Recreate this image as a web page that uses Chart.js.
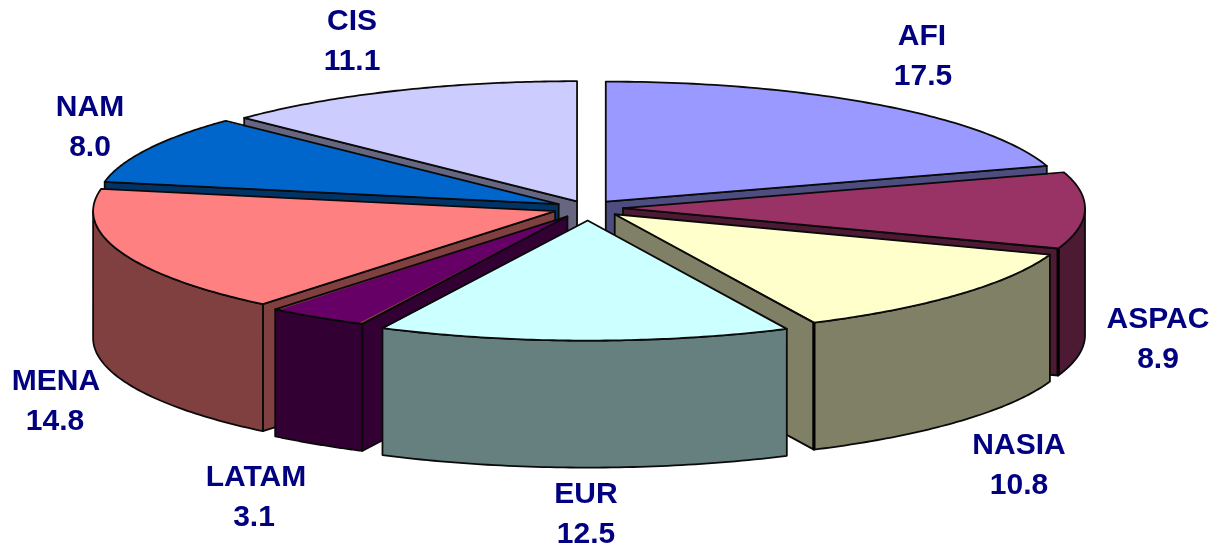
<!DOCTYPE html>
<html>
<head>
<meta charset="utf-8">
<style>
html,body{margin:0;padding:0;background:#fff;overflow:hidden}
#wrap{position:absolute;left:0;top:0;width:1224px;height:554px}
canvas{display:block;filter:blur(0.45px)}
</style>
<script src="https://cdn.jsdelivr.net/npm/chart.js@4/dist/chart.umd.min.js"></script>
</head>
<body>
<div id="wrap"><canvas id="c" width="1224" height="554"></canvas></div>
<script>
const categories = ['AFI','ASPAC','NASIA','EUR','LATAM','MENA','NAM','CIS'];
const values = [17.5,8.9,10.8,12.5,3.1,14.8,8.0,11.1];

const topColors = ['#9999FF','#993366','#FFFFCC','#CCFFFF','#660066','#FF8080','#0066CC','#CCCCFF'];
const wallColors = ['#4D4D80','#4D1A33','#808066','#668080','#330033','#804040','#003366','#666680'];
const explode = [30,35,36,48,38,35,33,28];
const thickEdges = [1,2];
const labelPositions = [[922,37],[1158,320],[1019,446],[586,495],[256,478],[56,382],[90,108],[352,22]];
const valueShift = [1,0,0,0,-2,-1,0,0];

const PIE_X = 588, PIE_Y = 208, SQUASH = 0.26, RADIUS = 462, DEPTH = 127, LINE = 1.8;
const INK = '#0a0a0a', TEXT = '#000080', FONT = 'bold 30px "Liberation Sans", Arial, sans-serif';

function geometry(arc, i) {
  const d = explode[i], mid = (arc.startAngle + arc.endAngle) / 2;
  return {
    s: arc.startAngle, e: arc.endAngle, mid, R: RADIUS,
    ax: PIE_X + Math.cos(mid) * d,
    ay: PIE_Y + Math.sin(mid) * d * SQUASH
  };
}
function pt(g, a) { return [g.ax + g.R * Math.cos(a), g.ay + g.R * Math.sin(a) * SQUASH]; }

function paint(ctx, fill) {
  ctx.fillStyle = fill; ctx.fill();
  ctx.strokeStyle = INK; ctx.lineWidth = LINE; ctx.lineJoin = 'round'; ctx.stroke();
}
function radialFace(ctx, g, a, fill) {
  const p = pt(g, a);
  ctx.beginPath();
  ctx.moveTo(g.ax, g.ay); ctx.lineTo(p[0], p[1]);
  ctx.lineTo(p[0], p[1] + DEPTH); ctx.lineTo(g.ax, g.ay + DEPTH);
  ctx.closePath(); paint(ctx, fill);
}
function outerFace(ctx, g, lo, hi, fill) {
  const n = 60;
  ctx.beginPath();
  for (let k = 0; k <= n; k++) {
    const p = pt(g, lo + (hi - lo) * k / n);
    k ? ctx.lineTo(p[0], p[1]) : ctx.moveTo(p[0], p[1]);
  }
  for (let k = n; k >= 0; k--) {
    const p = pt(g, lo + (hi - lo) * k / n);
    ctx.lineTo(p[0], p[1] + DEPTH);
  }
  ctx.closePath(); paint(ctx, fill);
}

const pie3d = {
  id: 'pie3d',
  afterDatasetsUpdate(chart) {
    // keep every slice at the same radius: Chart.js grows narrow exploded slices
    chart.getDatasetMeta(0).data.forEach((arc, i) => {
      const fix = 1 - Math.sin(Math.min(Math.PI, arc.circumference));
      arc.outerRadius = RADIUS - explode[i] * fix;
    });
  },
  beforeDatasetsDraw(chart) {
    const ctx = chart.ctx, arcs = chart.getDatasetMeta(0).data;
    const order = arcs.map((arc, i) => ({ i, g: geometry(arc, i) }))
      .sort((a, b) => (a.g.ay + RADIUS * 0.5 * Math.sin(a.g.mid) * SQUASH) - (b.g.ay + RADIUS * 0.5 * Math.sin(b.g.mid) * SQUASH));
    ctx.save();
    order.forEach(({ i, g }) => {
      const fill = wallColors[i];
      if (Math.sin(g.s - Math.PI / 2) > 0) radialFace(ctx, g, g.s, fill);
      if (Math.sin(g.e + Math.PI / 2) > 0) radialFace(ctx, g, g.e, fill);
      const lo = Math.max(g.s, 0), hi = Math.min(g.e, Math.PI);
      if (hi > lo) outerFace(ctx, g, lo, hi, fill);
      if (thickEdges.includes(i)) {
        const p = pt(g, g.e);
        ctx.beginPath(); ctx.moveTo(p[0], p[1]); ctx.lineTo(p[0], p[1] + DEPTH);
        ctx.strokeStyle = '#000'; ctx.lineWidth = 3.2; ctx.stroke();
      }
    });
    ctx.restore();
    // the library's arcs are the top faces, squashed into the tilted plane
    ctx.save();
    ctx.translate(PIE_X, PIE_Y);
    ctx.scale(1, SQUASH);
    ctx.translate(-arcs[0].x, -arcs[0].y);
  },
  afterDatasetsDraw(chart) {
    const ctx = chart.ctx, arcs = chart.getDatasetMeta(0).data;
    ctx.restore();
    ctx.save();
    ctx.strokeStyle = INK; ctx.lineWidth = LINE; ctx.lineJoin = 'round';
    arcs.forEach((arc, i) => {
      const g = geometry(arc, i), n = 80;
      ctx.beginPath();
      ctx.moveTo(g.ax, g.ay);
      for (let k = 0; k <= n; k++) {
        const p = pt(g, g.s + (g.e - g.s) * k / n);
        ctx.lineTo(p[0], p[1]);
      }
      ctx.closePath(); ctx.stroke();
    });
    ctx.fillStyle = TEXT; ctx.font = FONT; ctx.textAlign = 'center'; ctx.textBaseline = 'middle';
    categories.forEach((name, i) => {
      const [x, y] = labelPositions[i];
      ctx.fillText(name, x, y);
      ctx.fillText(values[i].toFixed(1), x + valueShift[i], y + 39.5);
    });
    ctx.restore();
  }
};

new Chart(document.getElementById('c'), {
  type: 'pie',
  data: {
    labels: categories,
    datasets: [{
      data: values,
      backgroundColor: topColors,
      borderWidth: 0,
      offset: explode.map(d => d * 4),
      clip: false
    }]
  },
  options: {
    responsive: false,
    animation: false,
    radius: RADIUS,
    layout: { padding: 0 },
    plugins: { legend: { display: false }, tooltip: { enabled: false }, title: { display: false } }
  },
  plugins: [pie3d]
});
</script>
</body>
</html>
